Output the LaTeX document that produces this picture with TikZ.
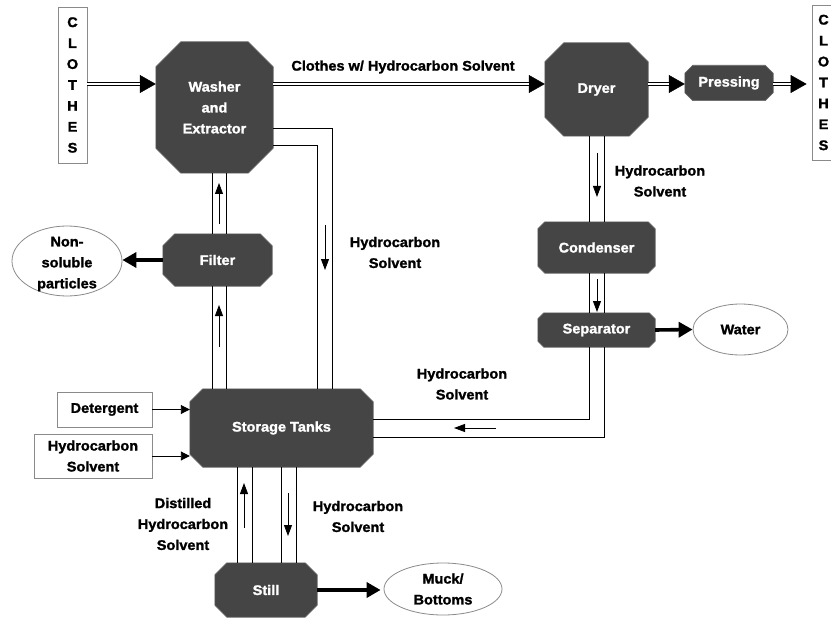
\documentclass[tikz,border=0pt]{standalone}
\usepackage{fontspec}
\setmainfont{Liberation Sans}[FakeStretch=1.04,FakeBold=1.5]
\usetikzlibrary{arrows.meta,shapes.geometric,backgrounds,calc}
\definecolor{octcol}{HTML}{454545}
\definecolor{octedge}{HTML}{666666}
\definecolor{edgecol}{HTML}{8A8A8A}
\newcommand\octfill[2]{\filldraw[fill=octcol,draw=octedge,line width=0.6bp] ([xshift=#2bp]#1.north west) -- ([xshift=-#2bp]#1.north east) -- ([yshift=-#2bp]#1.north east) -- ([yshift=#2bp]#1.south east) -- ([xshift=-#2bp]#1.south east) -- ([xshift=#2bp]#1.south west) -- ([yshift=#2bp]#1.south west) -- ([yshift=-#2bp]#1.north west) -- cycle;}
\newcommand\dblarrow[2]{%
  \draw[line width=0.5bp,-{Triangle[length=16bp,width=18bp]}] #1 -- #2;
  \draw[line width=3.6bp, shorten >=15bp] #1 -- #2;
  \draw[white, line width=1.6bp, shorten >=15.5bp] #1 -- #2;}
\begin{document}
\begin{tikzpicture}[x=1bp,y=-1bp,
  txt/.style={font=\fontsize{14}{21}\selectfont\bfseries, align=center, inner sep=0pt},
  oct/.style={txt, text=white, rectangle, inner sep=0pt},
  box/.style={txt, draw=edgecol, line width=0.8bp, rectangle, inner sep=0pt},
  ell/.style={draw=edgecol, line width=0.8bp, ellipse, inner sep=0pt, fill=white},
  pipe/.style={line width=0.9bp},
  flow/.style={line width=0.8bp, -{Triangle[length=11bp,width=8bp]}},
  thk/.style={line width=3.6bp, -{Triangle[length=14bp,width=15bp]}},
  src/.style={line width=0.9bp, -{Triangle[length=9bp,width=9bp]}}]
\useasboundingbox (0,0) rectangle (831,618);

% rows and columns of the pipes
\coordinate (r1) at (0,84);
\coordinate (rw1) at (0,128);
\coordinate (rw2) at (0,145);
\coordinate (cw1) at (317,0);
\coordinate (cw2) at (332,0);
\coordinate (cf1) at (212,0);
\coordinate (cf2) at (226,0);
\coordinate (cd1) at (589,0);
\coordinate (cd2) at (604,0);
\coordinate (rs1) at (0,419);
\coordinate (rs2) at (0,437);
\coordinate (cs1) at (237,0);
\coordinate (cs2) at (252,0);
\coordinate (cs3) at (281,0);
\coordinate (cs4) at (296,0);

% side boxes
\node[box, minimum width=29bp, minimum height=156bp] (clothesL) at (72.5,85) {C\\L\\O\\T\\H\\E\\S};
\node[box, minimum width=23bp, minimum height=155bp] (clothesR) at (823.5,82.5) {C\\L\\O\\T\\H\\E\\S};
\node[box, minimum width=95bp, minimum height=35bp] (detergent) at (104.5,409.5) {Detergent};
\node[box, minimum width=118bp, minimum height=44bp] (hcsrc) at (93,456) {Hydrocarbon\\Solvent};

% process units
\node[oct, minimum width=117bp, minimum height=131bp] (washer) at (214.5,107.5) {Washer\\and\\Extractor};
\node[oct, minimum width=103bp, minimum height=93bp] (dryer) at (596.5,89.5) {Dryer};
\node[oct, minimum width=88bp, minimum height=35bp] (pressing) at (729,83) {Pressing};
\node[oct, minimum width=117bp, minimum height=51bp] (condenser) at (596.5,247.5) {Condenser};
\node[oct, minimum width=117bp, minimum height=34bp] (separator) at (596.5,330) {Separator};
\node[oct, minimum width=109bp, minimum height=52bp] (filter) at (217.5,260) {Filter};
\node[oct, minimum width=183bp, minimum height=78bp] (storage) at (281.5,428) {Storage Tanks};
\node[oct, minimum width=102bp, minimum height=54bp] (still) at (266,590) {Still};

\begin{scope}[on background layer]
\octfill{washer}{25}
\octfill{dryer}{19}
\octfill{pressing}{8}
\octfill{condenser}{7}
\octfill{separator}{6}
\octfill{filter}{12}
\octfill{storage}{13}
\octfill{still}{12}
\end{scope}

% outputs
\node[ell, minimum width=95bp, minimum height=51bp, label={[txt]center:Water}] (water) at (740.5,329.5) {};
\node[ell, minimum width=110bp, minimum height=70bp, label={[txt,yshift=-3bp]center:{Non-\\soluble\\particles}}] (nonsol) at (67,261) {};
\node[ell, minimum width=118bp, minimum height=52bp, label={[txt]center:{Muck/\\Bottoms}}] (muck) at (443,589) {};

% labels
\node[txt] (lclothes) at (403,67) {Clothes w/ Hydrocarbon Solvent};
\node[txt] (l1) at (660,181) {Hydrocarbon\\Solvent};
\node[txt] (l2) at (395,252.5) {Hydrocarbon\\Solvent};
\node[txt] (l3) at (462,384) {Hydrocarbon\\Solvent};
\node[txt] (l4) at (183,524) {Distilled\\Hydrocarbon\\Solvent};
\node[txt] (l5) at (358,516.5) {Hydrocarbon\\Solvent};

% clothes flow
\dblarrow{(clothesL.east |- r1)}{(washer.west |- r1)}
\dblarrow{(washer.east |- r1)}{(dryer.west |- r1)}
\dblarrow{(dryer.east |- r1)}{(pressing.west |- r1)}
\dblarrow{(pressing.east |- r1)}{($(clothesR.west |- r1)+(-5,0)$)}

% pipes
\draw[pipe] (washer.east |- rw1) -| (storage.north -| cw2);
\draw[pipe] (washer.east |- rw2) -| (storage.north -| cw1);
\foreach \c in {cf1,cf2} {
  \draw[pipe] (storage.north -| \c) -- (filter.south -| \c);
  \draw[pipe] (filter.north -| \c) -- (washer.south -| \c);
}
\foreach \c in {cd1,cd2} {
  \draw[pipe] (dryer.south -| \c) -- (condenser.north -| \c);
  \draw[pipe] (condenser.south -| \c) -- (separator.north -| \c);
}
\draw[pipe] (separator.south -| cd1) |- (storage.east |- rs1);
\draw[pipe] (separator.south -| cd2) |- (storage.east |- rs2);
\foreach \c in {cs1,cs2,cs3,cs4} {
  \draw[pipe] (storage.south -| \c) -- (still.north -| \c);
}

% flow direction arrows inside pipes
\draw[flow] (219,347) -- (219,305);
\draw[flow] (219,224) -- (219,183);
\draw[flow] (325,225) -- (325,270);
\draw[flow] (597,153) -- (597,197);
\draw[flow] (597,279) -- (597,312);
\draw[flow] (496,428) -- (454,428);
\draw[flow] (244,528) -- (244,483);
\draw[flow] (288,493) -- (288,536);

% thick output arrows
\draw[thk] (separator.east) -- (water.west);
\draw[thk] (filter.west) -- (nonsol.east |- filter.west);
\draw[thk] (still.east) -- ($(muck.west |- still.east)+(-3,0)$);

% inputs to storage
\draw[src] (detergent.east) -- (storage.west |- detergent.east);
\draw[src] (hcsrc.east) -- (storage.west |- hcsrc.east);
\end{tikzpicture}
\end{document}
